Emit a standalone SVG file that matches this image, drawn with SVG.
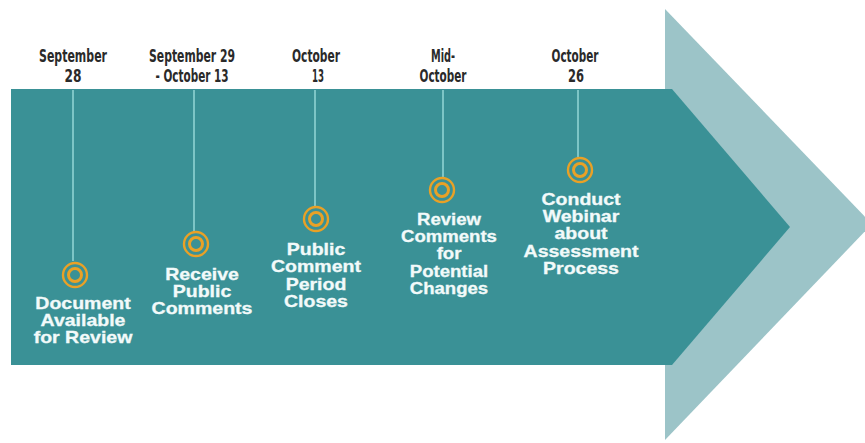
<svg xmlns="http://www.w3.org/2000/svg" width="865" height="443" viewBox="0 0 865 443">
<defs>
<style>
.date{font-family:"Liberation Sans Narrow","DejaVu Sans Condensed","DejaVu Sans",sans-serif;font-weight:bold;font-size:18px;fill:#2a2a2a;text-anchor:middle}
.lbl{font-family:"Liberation Sans",Arial,sans-serif;font-weight:bold;font-size:16px;fill:#f2fafa;stroke:#f2fafa;stroke-width:0.3;text-anchor:middle}
.stem{stroke:#8fd2d2;stroke-width:1.6;fill:none}
.ro{fill:none;stroke:#e9a126;stroke-width:2.4}
.ri{fill:none;stroke:#e9a126;stroke-width:3}
</style>
</defs>
<rect width="865" height="443" fill="#ffffff"/>
<g id="arrows">
<polygon points="665,9 872,224 665,440" fill="#9cc4c8"/>
<polygon points="11,89 672,89 790,227 672,365 11,365" fill="#3a9196"/>
</g>
<g id="connectors">
<line class="stem" x1="73" y1="90" x2="73" y2="261"/>
<line class="stem" x1="194" y1="90" x2="194" y2="231"/>
<line class="stem" x1="315" y1="90" x2="315" y2="206"/>
<line class="stem" x1="443" y1="90" x2="443" y2="177"/>
<line class="stem" x1="578" y1="90" x2="578" y2="157"/>
</g>
<g id="n1">
<text class="date" x="73" y="62" textLength="68" lengthAdjust="spacingAndGlyphs">September</text>
<text class="date" x="73" y="82" textLength="17" lengthAdjust="spacingAndGlyphs">28</text>
<circle class="ro" cx="75" cy="275" r="12"/><circle class="ri" cx="75" cy="275" r="6.5"/>
<g transform="translate(83,0) scale(1.22,1)">
<text class="lbl" x="0" y="309">Document</text>
<text class="lbl" x="0" y="326">Available</text>
<text class="lbl" x="0" y="343">for Review</text>
</g>
</g>
<g id="n2">
<text class="date" x="192" y="62" textLength="86" lengthAdjust="spacingAndGlyphs">September 29</text>
<text class="date" x="192" y="82" textLength="73" lengthAdjust="spacingAndGlyphs">- October 13</text>
<circle class="ro" cx="196" cy="244" r="12"/><circle class="ri" cx="196" cy="244" r="6.5"/>
<g transform="translate(202,0) scale(1.22,1)">
<text class="lbl" x="0" y="280">Receive</text>
<text class="lbl" x="0" y="297">Public</text>
<text class="lbl" x="0" y="314">Comments</text>
</g>
</g>
<g id="n3">
<text class="date" x="316" y="62" textLength="48" lengthAdjust="spacingAndGlyphs">October</text>
<text class="date" x="318" y="82" textLength="12" lengthAdjust="spacingAndGlyphs">13</text>
<circle class="ro" cx="316" cy="219" r="12"/><circle class="ri" cx="316" cy="219" r="6.5"/>
<g transform="translate(316,0) scale(1.22,1)">
<text class="lbl" x="0" y="255">Public</text>
<text class="lbl" x="0" y="272">Comment</text>
<text class="lbl" x="0" y="290">Period</text>
<text class="lbl" x="0" y="307">Closes</text>
</g>
</g>
<g id="n4">
<text class="date" x="443" y="62" textLength="24" lengthAdjust="spacingAndGlyphs">Mid-</text>
<text class="date" x="443" y="82" textLength="47" lengthAdjust="spacingAndGlyphs">October</text>
<circle class="ro" cx="442" cy="190" r="12"/><circle class="ri" cx="442" cy="190" r="6.5"/>
<g transform="translate(449,0) scale(1.16,1)">
<text class="lbl" x="0" y="225">Review</text>
<text class="lbl" x="0" y="242">Comments</text>
<text class="lbl" x="0" y="259">for</text>
<text class="lbl" x="0" y="277">Potential</text>
<text class="lbl" x="0" y="294">Changes</text>
</g>
</g>
<g id="n5">
<text class="date" x="575" y="62" textLength="47" lengthAdjust="spacingAndGlyphs">October</text>
<text class="date" x="576" y="82" textLength="16" lengthAdjust="spacingAndGlyphs">26</text>
<circle class="ro" cx="580" cy="170" r="12"/><circle class="ri" cx="580" cy="170" r="6.5"/>
<g transform="translate(581,0) scale(1.22,1)">
<text class="lbl" x="0" y="205">Conduct</text>
<text class="lbl" x="0" y="222">Webinar</text>
<text class="lbl" x="0" y="239">about</text>
<text class="lbl" x="0" y="257">Assessment</text>
<text class="lbl" x="0" y="274">Process</text>
</g>
</g>
</svg>
